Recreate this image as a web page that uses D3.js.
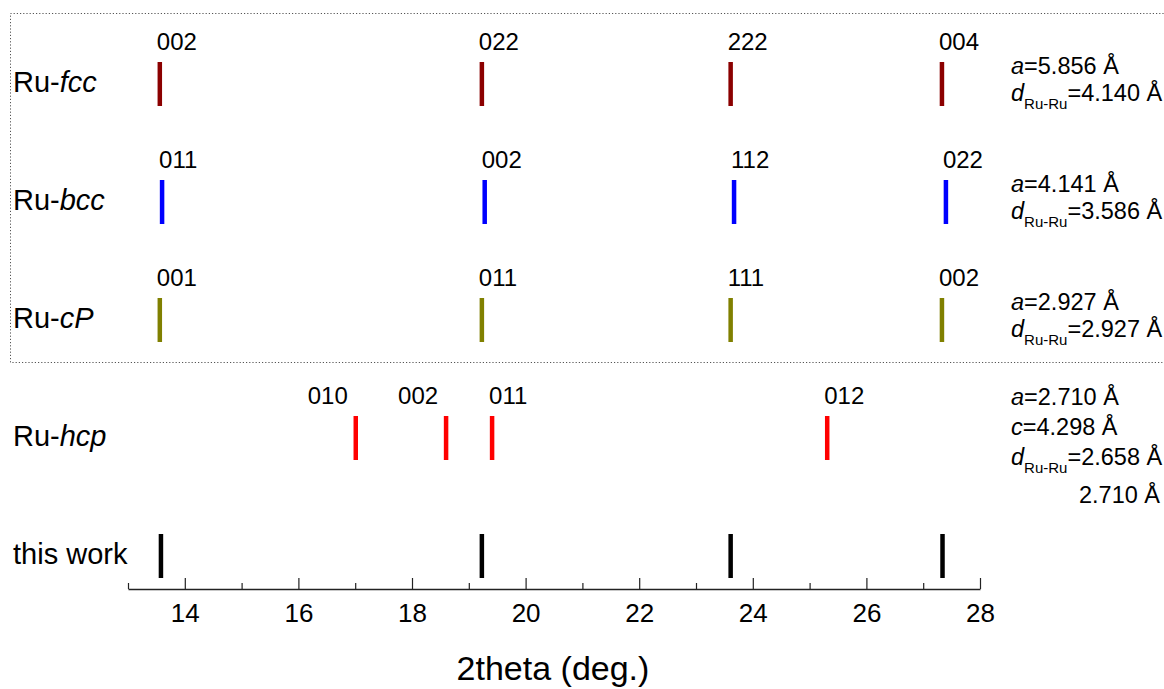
<!DOCTYPE html>
<html>
<head>
<meta charset="utf-8">
<script src="https://cdn.jsdelivr.net/npm/d3@7"></script>
<style>
  body { margin: 0; background: #fff; }
  text { font-family: Arial, "Liberation Sans", sans-serif; fill: #000; }
</style>
</head>
<body>
<script>
// rows of the stick pattern, top to bottom
var rows = ["fcc", "bcc", "cP", "hcp", "this work"];

// peak positions (2theta, deg.)
var fccPeaks = [13.56, 19.23, 23.61, 27.33];
var bccPeaks = [13.60, 19.28, 23.67, 27.40];
var cPPeaks = [13.56, 19.23, 23.61, 27.33];
var hcpPeaks = [17.01, 18.60, 19.41, 25.31];
var workPeaks = [13.58, 19.23, 23.61, 27.34];

// hkl labels
var fccHkl = ["002", "022", "222", "004"];
var bccHkl = ["011", "002", "112", "022"];
var cPHkl = ["001", "011", "111", "002"];
var hcpHkl = ["010", "002", "011", "012"];

// lattice parameters shown at right
var fccParams = [["a", "5.856"], ["d", "4.140"]];
var bccParams = [["a", "4.141"], ["d", "3.586"]];
var cPParams = [["a", "2.927"], ["d", "2.927"]];
var hcpParams = [["a", "2.710"], ["c", "4.298"], ["d", "2.658"], ["", "2.710"]];

var xTicks = [14, 16, 18, 20, 22, 24, 26, 28];
var xMinorTicks = [13, 15, 17, 19, 21, 23, 25, 27];

var width = 1164;
var height = 689;

var series = [
  {row: "fcc", peaks: fccPeaks, hkl: fccHkl, params: fccParams, color: "#8b0000"},
  {row: "bcc", peaks: bccPeaks, hkl: bccHkl, params: bccParams, color: "#0000ff"},
  {row: "cP", peaks: cPPeaks, hkl: cPHkl, params: cPParams, color: "#808000"},
  {row: "hcp", peaks: hcpPeaks, hkl: hcpHkl, params: hcpParams, color: "#ff0000"},
  {row: "this work", peaks: workPeaks, hkl: null, params: null, color: "#000000"}
];

var xScale = d3.scaleLinear()
               .domain([13, 28])
               .range([128, 980]);

// top of each row of sticks
var yScale = d3.scalePoint()
               .domain(rows)
               .range([62, 534]);

var barH = 44;

var svg = d3.select("body")
            .append("svg")
            .attr("width", width)
            .attr("height", height);

// dotted frame around the three cubic phases (right side runs off the picture)
svg.append("path")
   .attr("d", "M1170,13.5H10.5V362.5H1170")
   .attr("fill", "none")
   .attr("stroke", "#555")
   .attr("stroke-width", 1)
   .attr("stroke-dasharray", "1.2,2");

var groups = svg.selectAll("g.row")
                .data(series)
                .enter()
                .append("g")
                .attr("class", "row");

// row names
groups.append("text")
      .attr("x", 13)
      .attr("y", function(d){ return yScale(d.row) + 30; })
      .attr("font-size", 29)
      .each(function(d){
        var t = d3.select(this);
        if (d.row == "this work") {
          t.text("this work");
        } else {
          t.append("tspan").text("Ru-");
          t.append("tspan").attr("font-style", "italic").text(d.row);
        }
      });

// sticks
groups.selectAll("line.stick")
      .data(function(d){
        return d.peaks.map(function(p){ return {p: p, row: d.row, color: d.color}; });
      })
      .enter()
      .append("line")
      .attr("class", "stick")
      .attr("x1", function(d){ return xScale(d.p); })
      .attr("x2", function(d){ return xScale(d.p); })
      .attr("y1", function(d){ return yScale(d.row); })
      .attr("y2", function(d){ return yScale(d.row) + barH; })
      .attr("stroke", function(d){ return d.color; })
      .attr("stroke-width", 4.5);

// hkl labels (two hcp labels sit left of their sticks)
groups.filter(function(d){ return d.hkl; })
      .selectAll("text.hkl")
      .data(function(d){
        return d.hkl.map(function(h, i){ return {h: h, p: d.peaks[i], row: d.row, i: i}; });
      })
      .enter()
      .append("text")
      .attr("class", "hkl")
      .attr("font-size", 24)
      .attr("x", function(d){
        if (d.row == "hcp" && d.i < 2) return xScale(d.p) - 8;
        return xScale(d.p) - 3;
      })
      .attr("y", function(d){ return yScale(d.row) - 12; })
      .attr("text-anchor", function(d){
        return (d.row == "hcp" && d.i < 2) ? "end" : "start";
      })
      .text(function(d){ return d.h; });

// lattice parameters
groups.filter(function(d){ return d.params; })
      .each(function(d){
        var g = d3.select(this);
        var top = yScale(d.row);
        var gap = d.row == "hcp" ? 30 : 27;
        var y0 = d.row == "hcp" ? top - 11 : top + 12;
        d.params.forEach(function(p, i){
          var t = g.append("text")
                   .attr("font-size", 23.5)
                   .attr("y", y0 + i * gap);
          if (p[0] == "") {
            t.attr("x", 1160).attr("text-anchor", "end")
             .attr("y", y0 + i * gap + 8)
             .text(p[1] + " Å");
            return;
          }
          t.attr("x", 1011);
          t.append("tspan").attr("font-style", "italic").text(p[0]);
          if (p[0] == "d") {
            t.append("tspan").attr("font-size", 15).attr("dy", 8).text("Ru-Ru");
            t.append("tspan").attr("dy", -8).text("=" + p[1] + " Å");
          } else {
            t.append("tspan").text("=" + p[1] + " Å");
          }
        });
      });

// x axis, ticks point up
var xAxis = d3.axisBottom(xScale)
              .tickValues(xTicks)
              .tickSizeInner(-11)
              .tickSizeOuter(0)
              .tickPadding(15)
              .tickFormat(d3.format("d"));

var minorAxis = d3.axisBottom(xScale)
                  .tickValues(xMinorTicks)
                  .tickSizeInner(-6)
                  .tickSizeOuter(0)
                  .tickFormat("");

var axisG = svg.append("g")
               .attr("transform", "translate(0,589)")
               .call(xAxis);

svg.append("g")
   .attr("transform", "translate(0,589)")
   .call(minorAxis)
   .select(".domain").remove();

axisG.selectAll("text")
     .attr("font-size", 26)
     .attr("font-family", "Arial, 'Liberation Sans', sans-serif")
     .attr("fill", "#000");
axisG.select(".domain").attr("stroke", "#222").attr("stroke-width", 1.5);
svg.selectAll(".tick line").attr("stroke", "#222").attr("stroke-width", 1.2);

svg.append("text")
   .attr("x", 553)
   .attr("y", 680)
   .attr("text-anchor", "middle")
   .attr("font-size", 34)
   .text("2theta (deg.)");
</script>
</body>
</html>
